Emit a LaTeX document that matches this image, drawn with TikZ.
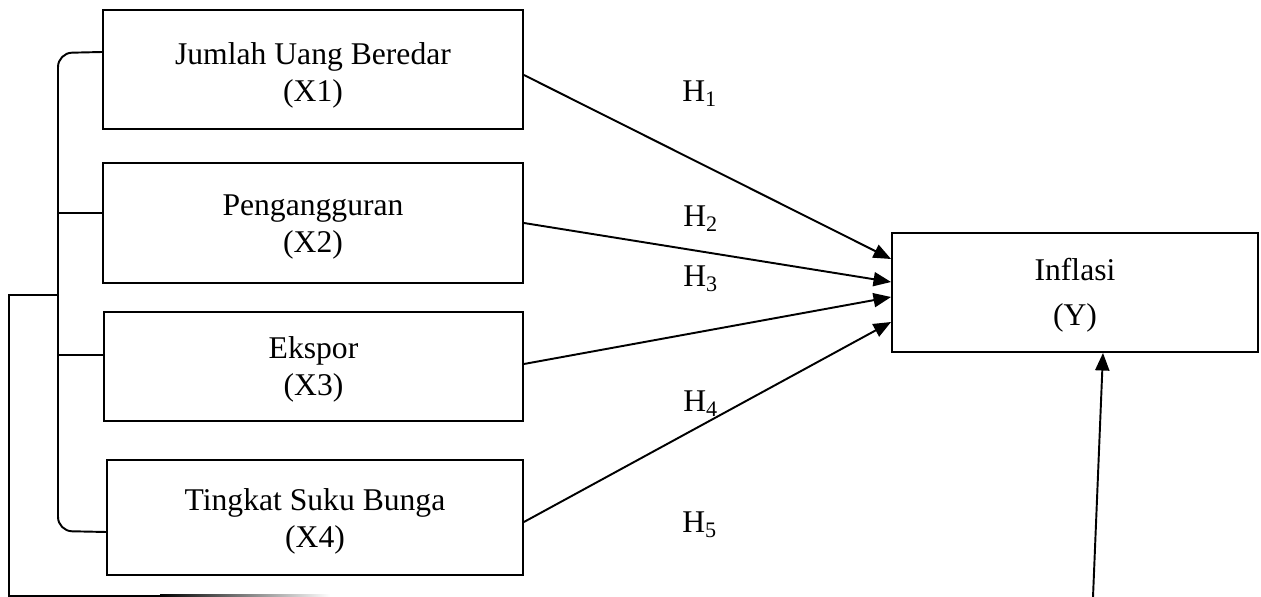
\documentclass[tikz,border=0pt]{standalone}
\usepackage{fontspec}
\setmainfont{Liberation Serif}
\usetikzlibrary{arrows.meta}
\tikzset{
  var/.style={draw, line width=1.1pt, inner sep=0pt},
  label text/.style={align=center, inner sep=0pt, font=\fontsize{18}{21}\selectfont},
  hyp/.style={inner sep=0pt, anchor=base west, font=\fontsize{18}{21}\selectfont},
  link/.style={line width=1.1pt, -{Triangle[length=10pt,width=8pt]}},
  wire/.style={line width=1.1pt},
}
\begin{document}
\begin{tikzpicture}[x=0.02cm,y=-0.02cm]
    \useasboundingbox (0,0) rectangle (1261,597);
    % variables
    \node[var, minimum width=8.4cm, minimum height=2.38cm] (x1) at (313,69.5) {};
    \node[var, minimum width=8.4cm, minimum height=2.4cm] (x2) at (313,223) {};
    \node[var, minimum width=8.38cm, minimum height=2.18cm] (x3) at (313.5,366.5) {};
    \node[var, minimum width=8.32cm, minimum height=2.3cm] (x4) at (315,517.5) {};
    \node[var, minimum width=7.32cm, minimum height=2.38cm] (y) at (1075,292.5) {};
    \node[label text] (x1t) at ([yshift=-0.11cm]x1.center) {Jumlah Uang Beredar\\(X1)};
    \node[label text] (x2t) at ([yshift=-0.08cm]x2.center) {Pengangguran\\(X2)};
    \node[label text] (x3t) at ([yshift=-0.06cm]x3.center) {Ekspor\\(X3)};
    \node[label text] (x4t) at ([yshift=-0.08cm]x4.center) {Tingkat Suku Bunga\\(X4)};
    \node[label text, font=\fontsize{18}{25.5}\selectfont] (yt) at ([yshift=-0.06cm]y.center) {Inflasi\\(Y)};
    % hypotheses
    \node[hyp] (h1) at (682,102) {H\textsubscript{1}};
    \node[hyp] (h2) at (683,227) {H\textsubscript{2}};
    \node[hyp] (h3) at (683,287) {H\textsubscript{3}};
    \node[hyp] (h4) at (683,412) {H\textsubscript{4}};
    \node[hyp] (h5) at (682,533) {H\textsubscript{5}};
    % arrows
    \draw[link] ([yshift=-0.11cm]x1.east) -- ([yshift=0.67cm]y.west);
    \draw[link] (x2.east) -- ([yshift=0.21cm]y.west);
    \draw[link] ([yshift=0.05cm]x3.east) -- ([yshift=-0.09cm]y.west);
    \draw[link] ([yshift=-0.09cm]x4.east) -- ([yshift=-0.59cm]y.west);
    % bracket
    \draw[wire, rounded corners=8pt] ([yshift=0.35cm]x1.west) -- (58,53) -- (58,531) -- ([yshift=-0.29cm]x4.west);
    \draw[wire] ([yshift=0.2cm]x2.west) -- ++(-45,0);
    \draw[wire] ([yshift=0.23cm]x3.west) -- ++(-46,0);
    \coordinate (joint) at (58,295);
    \coordinate (foot) at (1093,597);
    \draw[wire] (joint) -- (9,295) -- (9,595.9) -- (160,595.9);
    \shade[left color=black, right color=white] (160,594.8) rectangle (330,597);
    \draw[link] (foot) -- ([xshift=0.56cm]y.south);
\end{tikzpicture}
\end{document}
